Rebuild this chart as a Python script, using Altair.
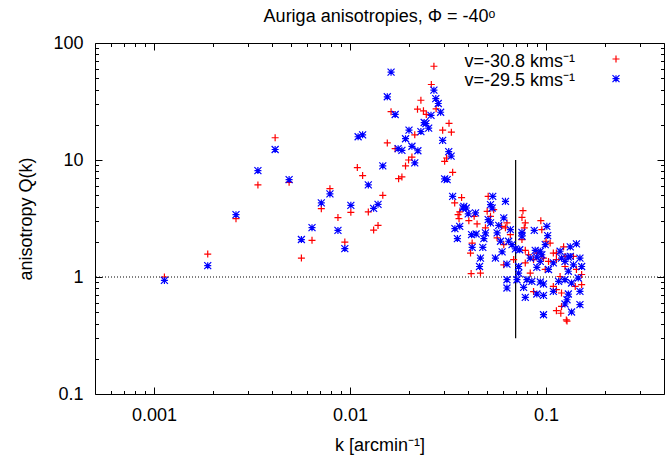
import altair as alt
import pandas as pd

# ---- data (k in arcmin^-1, Q = anisotropy) ----
k_red = [0.00113, 0.00188, 0.00262, 0.00339, 0.00415, 0.00489, 0.00565, 0.0064, 0.00714, 0.0079,
         0.00868, 0.00941, 0.0101, 0.0124, 0.0132, 0.0139, 0.0147, 0.0268, 0.0260, 0.0230,
         0.0221, 0.0237, 0.0275, 0.0162, 0.0245, 0.0320, 0.0297, 0.0329, 0.0214, 0.0155,
         0.0170, 0.0311, 0.0304, 0.0207, 0.0199, 0.0192, 0.0109, 0.0116, 0.0334, 0.0184,
         0.0177, 0.0371, 0.0342, 0.0363, 0.0356, 0.0430, 0.0360, 0.0404, 0.0445, 0.0521,
         0.0507, 0.0541, 0.0501, 0.0593, 0.0621, 0.0491, 0.0563, 0.0420, 0.0609, 0.0412,
         0.0609, 0.0415, 0.0463, 0.0763, 0.0754, 0.0784, 0.0775, 0.0632, 0.0658, 0.0754,
         0.0941, 0.0952, 0.100, 0.105, 0.0784, 0.0898, 0.0815, 0.109, 0.113, 0.123,
         0.125, 0.0684, 0.0784, 0.0864, 0.0971, 0.103, 0.113, 0.125, 0.0991, 0.0831,
         0.118, 0.109, 0.0864, 0.113, 0.120, 0.120, 0.113, 0.119, 0.127, 0.138,
         0.143, 0.152, 0.141, 0.152, 0.128]
q_red = [1.00, 1.57, 3.15, 6.12, 15.5, 6.45, 1.45, 2.06, 3.84, 5.69,
         3.22, 1.99, 3.57, 3.60, 2.52, 2.76, 4.99, 63.3, 44.2, 32.4,
         27.2, 26.3, 27.4, 25.9, 24.5, 20.6, 18.0, 17.3, 16.4, 14.0,
         12.5, 10.4, 9.75, 10.6, 10.0, 8.90, 8.61, 7.36, 7.85, 7.17,
         6.93, 4.77, 4.30, 3.60, 3.41, 3.30, 3.15, 3.03, 2.84, 3.30,
         4.89, 3.76, 3.64, 2.71, 2.63, 2.63, 2.16, 1.95, 1.89, 1.60,
         1.27, 1.07, 1.08, 3.69, 3.23, 2.90, 2.63, 2.90, 2.30, 2.09,
         3.03, 2.54, 2.02, 1.95, 1.69, 1.60, 1.55, 1.60, 1.60, 1.81,
         1.50, 1.41, 1.32, 1.41, 1.45, 1.36, 1.41, 1.23, 1.16, 1.08,
         1.01, 0.83, 0.75, 0.78, 0.73, 0.56, 0.515, 0.49, 0.43, 1.50,
         1.16, 1.05, 0.83, 0.86, 0.42]

k_blue = [0.00113, 0.00188, 0.00262, 0.00339, 0.00415, 0.00489, 0.00565, 0.0064, 0.00714, 0.0079,
          0.00868, 0.00941, 0.0101, 0.0124, 0.0132, 0.0139, 0.0162, 0.0268, 0.0155, 0.0274,
          0.0282, 0.0290, 0.0170, 0.0259, 0.0239, 0.0244, 0.0200, 0.0230, 0.0252, 0.0110,
          0.0116, 0.0192, 0.0297, 0.0207, 0.0176, 0.0184, 0.0222, 0.0319, 0.0328, 0.0214,
          0.0147, 0.0304, 0.0313, 0.0334, 0.0381, 0.0377, 0.0392, 0.0401, 0.0437, 0.0507,
          0.0521, 0.0535, 0.0521, 0.0531, 0.0621, 0.0609, 0.0574, 0.0343, 0.0363, 0.0491,
          0.0417, 0.0440, 0.0353, 0.0482, 0.0563, 0.0586, 0.0420, 0.0476, 0.0597, 0.0463,
          0.0552, 0.0458, 0.0632, 0.0632, 0.0658, 0.0754, 0.0754, 0.101, 0.0871, 0.102,
          0.0991, 0.0645, 0.0671, 0.0698, 0.0734, 0.0881, 0.0935, 0.0952, 0.0831, 0.118,
          0.133, 0.130, 0.0898, 0.0632, 0.0725, 0.0935, 0.109, 0.120, 0.0898, 0.103,
          0.0725, 0.0711, 0.0799, 0.0847, 0.0935, 0.0971, 0.116, 0.125, 0.0769, 0.109,
          0.0898, 0.0971, 0.130, 0.0784, 0.128, 0.125, 0.135, 0.0971, 0.143, 0.133,
          0.149, 0.125, 0.138, 0.152, 0.130, 0.146, 0.135, 0.149, 0.149]
q_blue = [0.935, 1.25, 3.41, 8.12, 12.3, 6.80, 2.09, 2.64, 4.30, 5.13,
          2.50, 1.75, 4.10, 6.12, 3.86, 4.18, 56.3, 39.5, 34.7, 33.5,
          30.4, 25.6, 24.5, 24.1, 20.9, 20.5, 18.0, 17.5, 18.7, 15.8,
          16.4, 15.2, 14.7, 13.1, 12.5, 12.1, 12.0, 11.8, 10.8, 9.45,
          8.90, 6.89, 6.80, 4.89, 4.02, 3.89, 3.89, 3.46, 3.53, 3.09,
          2.90, 4.89, 4.15, 3.89, 4.43, 3.20, 2.76, 2.59, 2.71, 2.38,
          2.30, 2.33, 2.13, 2.13, 2.38, 2.02, 1.79, 1.79, 1.64, 1.45,
          1.45, 1.23, 0.948, 0.805, 2.54, 2.41, 2.23, 2.71, 2.50, 2.26,
          1.89, 2.02, 1.89, 1.74, 1.71, 1.69, 1.66, 1.55, 1.45, 1.66,
          1.81, 1.48, 1.48, 1.29, 1.23, 1.36, 1.32, 1.45, 1.21, 1.16,
          1.08, 0.948, 0.948, 0.917, 0.906, 0.871, 0.917, 0.948, 0.815, 0.753,
          0.715, 0.696, 0.715, 0.669, 0.639, 0.588, 0.502, 0.476, 1.92, 1.50,
          1.45, 1.36, 1.27, 1.23, 1.12, 0.98, 0.889, 0.753, 0.58]

legend_labels = ["v=-30.8 kms\u207b\u00b9", "v=-29.5 kms\u207b\u00b9"]
title_text = "Auriga anisotropies, \u03a6 = -40\u1d52"
x_title = "k [arcmin\u207b\u00b9]"
y_title = "anisotropy Q(k)"

x_domain = [0.0005, 0.4]
y_domain = [0.1, 100]
x_major = [0.001, 0.01, 0.1]
x_minor = [0.0006, 0.0007, 0.0008, 0.0009,
           0.002, 0.003, 0.004, 0.005, 0.006, 0.007, 0.008, 0.009,
           0.02, 0.03, 0.04, 0.05, 0.06, 0.07, 0.08, 0.09, 0.2, 0.3]
y_major = [0.1, 1, 10, 100]
y_minor = [0.2, 0.3, 0.4, 0.5, 0.6, 0.7, 0.8, 0.9,
           2, 3, 4, 5, 6, 7, 8, 9, 20, 30, 40, 50, 60, 70, 80, 90]
ref_level = [1.0]
cut_k = [0.07]
cut_lo = [0.3]
cut_hi = [10]

# ---- styling ----
FONT = "Liberation Sans"
FS = 18
W, H = 569, 351
TMAJ, TMIN = 7, 3.5
PLUS = "M-1,0L1,0M0,-1L0,1"
STAR = "M-1,0L1,0M0,-1L0,1M-1,-1L1,1M-1,1L1,-1"

xscale = alt.Scale(type="log", domain=x_domain, nice=False)
yscale = alt.Scale(type="log", domain=y_domain, nice=False)

red_df = pd.DataFrame({"k": k_red, "Q": q_red})
blue_df = pd.DataFrame({"k": k_blue, "Q": q_blue})

axis_common = dict(labelFont=FONT, labelFontSize=FS, labelColor="black",
                   titleFont=FONT, titleFontSize=FS, titleFontWeight="normal",
                   titleColor="black", ticks=False, tickSize=0, domain=False,
                   grid=True, gridColor="black", gridOpacity=1, gridWidth=1,
                   format="~g", labelPadding=12)

x_main = alt.Axis(values=x_major, orient="bottom", titlePadding=12,
                  gridDash=[TMAJ, H - 2 * TMAJ, TMAJ, 2 * H], **axis_common)
y_main = alt.Axis(values=y_major, orient="left", titlePadding=17,
                  gridDash=[TMAJ, W - 2 * TMAJ, TMAJ, 2 * W], **axis_common)
x_min = alt.Axis(values=x_minor, orient="bottom", labels=False, ticks=False, domain=False,
                 grid=True, gridColor="black", gridOpacity=1, gridWidth=1,
                 gridDash=[TMIN, H - 2 * TMIN, TMIN, 2 * H])
y_min = alt.Axis(values=y_minor, orient="left", labels=False, ticks=False, domain=False,
                 grid=True, gridColor="black", gridOpacity=1, gridWidth=1,
                 gridDash=[TMIN, W - 2 * TMIN, TMIN, 2 * W])

red = alt.Chart(red_df).mark_point(shape=PLUS, size=49, filled=False, color="#ff0000",
                                   strokeWidth=1.2, opacity=1).encode(
    x=alt.X("k:Q", scale=xscale, axis=x_main, title=x_title),
    y=alt.Y("Q:Q", scale=yscale, axis=y_main, title=y_title),
)

blue = alt.Chart(blue_df).mark_point(shape=STAR, size=49, filled=False, color="#0000ff",
                                     strokeWidth=1.2, opacity=1).encode(
    x=alt.X("k:Q", scale=xscale, axis=None),
    y=alt.Y("Q:Q", scale=yscale, axis=None),
)

hline = alt.Chart(pd.DataFrame({"Q": ref_level})).mark_rule(
    color="black", strokeWidth=1, strokeDash=[1, 2]).encode(
    y=alt.Y("Q:Q", scale=yscale, axis=None))

vline = alt.Chart(pd.DataFrame({"k": cut_k, "lo": cut_lo, "hi": cut_hi})).mark_rule(
    color="black", strokeWidth=1.2).encode(
    x=alt.X("k:Q", scale=xscale, axis=x_min, title=None),
    y=alt.Y("lo:Q", scale=yscale, axis=y_min, title=None),
    y2="hi:Q")

title_layer = alt.Chart(pd.DataFrame({"t": [title_text]})).mark_text(
    align="center", baseline="alphabetic", font=FONT, fontSize=FS, color="black").encode(
    x=alt.value(W / 2), y=alt.value(-21), text="t:N")

leg_layers = []
for i, (lab, col, shp) in enumerate(zip(legend_labels, ["#ff0000", "#0000ff"], [PLUS, STAR])):
    d = pd.DataFrame({"label": [lab]})
    leg_layers.append(alt.Chart(d).mark_text(align="right", baseline="alphabetic", font=FONT,
                                             fontSize=FS, color="black").encode(
        x=alt.value(480), y=alt.value(24 + 19.3 * i), text="label:N"))
    leg_layers.append(alt.Chart(d).mark_point(shape=shp, size=49, filled=False, color=col,
                                              strokeWidth=1.2, opacity=1).encode(
        x=alt.value(521), y=alt.value(16 + 19.7 * i)))

chart = alt.layer(vline, hline, red, blue, title_layer, *leg_layers).resolve_axis(
    x="independent", y="independent").properties(
    width=W, height=H,
    autosize=alt.AutoSizeParams(type="none"),
    padding={"left": 95, "top": 43, "right": 2, "bottom": 65},
    background="white",
).configure_view(stroke="black", strokeWidth=1)

chart.save("out.html", embed_options={"renderer": "svg", "actions": False})
